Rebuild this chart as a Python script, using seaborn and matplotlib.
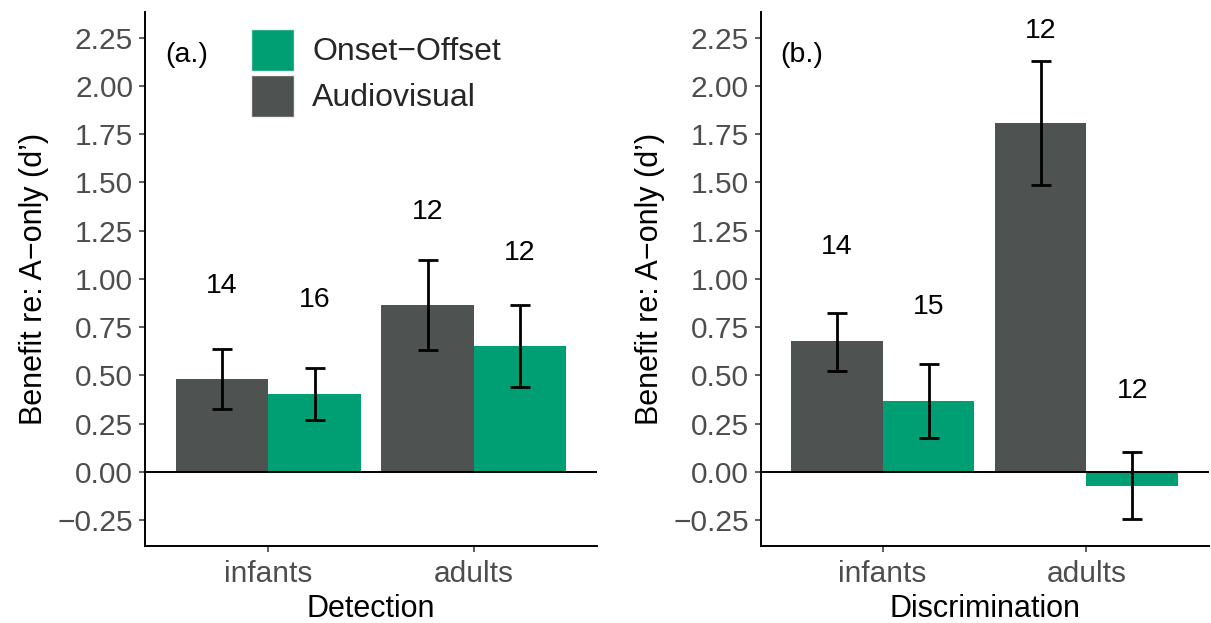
import matplotlib
matplotlib.use("Agg")
import matplotlib.pyplot as plt
from matplotlib.patches import Patch
import seaborn as sns
import pandas as pd

# ---- data ----
groups = ["infants", "adults"]
conditions = ["Audiovisual", "Onset\u2212Offset"]

det_av = [0.483, 0.866]
det_av_lo = [0.326, 0.632]
det_av_hi = [0.638, 1.100]
det_oo = [0.405, 0.655]
det_oo_lo = [0.267, 0.440]
det_oo_hi = [0.539, 0.866]
det_n_av = ["14", "12"]
det_n_oo = ["16", "12"]
det_n_av_y = [0.963, 1.347]
det_n_oo_y = [0.890, 1.136]

dis_av = [0.676, 1.809]
dis_av_lo = [0.521, 1.488]
dis_av_hi = [0.825, 2.129]
dis_oo = [0.369, -0.071]
dis_oo_lo = [0.175, -0.244]
dis_oo_hi = [0.561, 0.106]
dis_n_av = ["14", "12"]
dis_n_oo = ["15", "12"]
dis_n_av_y = [1.163, 2.287]
dis_n_oo_y = [0.856, 0.420]

yticks = [-0.25, 0.0, 0.25, 0.5, 0.75, 1.0, 1.25, 1.5, 1.75, 2.0, 2.25]
ytick_labels = ["\u22120.25", "0.00", "0.25", "0.50", "0.75", "1.00",
                "1.25", "1.50", "1.75", "2.00", "2.25"]
ylabel = "Benefit re: A\u2212only (d\u2019)"
xlabels = ["Detection", "Discrimination"]
panel_labels = ["(a.)", "(b.)"]

colors = {"Audiovisual": "#4E5250", "Onset\u2212Offset": "#009E73"}

# ---- style ----
sns.set_style("ticks")
plt.rcParams["font.family"] = ["Liberation Sans", "DejaVu Sans"]

fig = plt.figure(figsize=(12.11, 6.23), dpi=100)
W, H = 1211, 623
ax_a = fig.add_axes([145 / W, 1 - 545.5 / H, 452 / W, 533.5 / H])
ax_b = fig.add_axes([760.5 / W, 1 - 545.5 / H, 448 / W, 533.5 / H])

panels = [
    (ax_a, det_av, det_av_lo, det_av_hi, det_oo, det_oo_lo, det_oo_hi,
     det_n_av, det_n_oo, det_n_av_y, det_n_oo_y),
    (ax_b, dis_av, dis_av_lo, dis_av_hi, dis_oo, dis_oo_lo, dis_oo_hi,
     dis_n_av, dis_n_oo, dis_n_av_y, dis_n_oo_y),
]

dodge = 0.225
for k, (ax, av, avlo, avhi, oo, oolo, oohi, nav, noo, navy, nooy) in enumerate(panels):
    df = pd.DataFrame({
        "group": groups * 2,
        "cond": [conditions[0]] * 2 + [conditions[1]] * 2,
        "val": av + oo,
    })
    sns.barplot(data=df, x="group", y="val", hue="cond", order=groups,
                hue_order=conditions, palette=colors, width=0.9,
                saturation=1, errorbar=None, linewidth=0, legend=False,
                ax=ax, zorder=2)
    ax.axhline(0, color="black", lw=1.4, zorder=3)
    for i in range(len(groups)):
        for off, m, lo, hi, lab, ly in [(-dodge, av[i], avlo[i], avhi[i], nav[i], navy[i]),
                                        (dodge, oo[i], oolo[i], oohi[i], noo[i], nooy[i])]:
            ax.errorbar([i + off], [m], yerr=[[m - lo], [hi - m]], fmt="none",
                        ecolor="black", elinewidth=2.0, capsize=7.5,
                        capthick=2.0, zorder=4)
            ax.text(i + off, ly, lab, ha="center", va="center",
                    fontsize=20.5, color="black", zorder=5)

    ax.set_xlim(-0.6, 1.6)
    ax.set_ylim(-0.381, 2.383)
    ax.set_yticks(yticks)
    ax.set_yticklabels(ytick_labels)
    ax.set_xlabel(xlabels[k], fontsize=22, color="black", labelpad=4)
    ax.set_ylabel(ylabel, fontsize=22, color="black", labelpad=6)
    ax.tick_params(axis="both", labelsize=21.5, labelcolor="#4D4D4D",
                   color="#333333", length=4.5, width=1.1, pad=4)
    ax.tick_params(axis="x", pad=6)
    for s in ["top", "right"]:
        ax.spines[s].set_visible(False)
    for s in ["left", "bottom"]:
        ax.spines[s].set_color("black")
        ax.spines[s].set_linewidth(1.4)
    ax.text(0.044, 0.92, panel_labels[k], transform=ax.transAxes,
            ha="left", va="center", fontsize=20.5, color="black")

handles = [Patch(facecolor=colors[conditions[1]], edgecolor="#F2F2F2", lw=1),
           Patch(facecolor=colors[conditions[0]], edgecolor="#F2F2F2", lw=1)]
fig.legend(handles, [conditions[1], conditions[0]],
           loc="upper left", bbox_to_anchor=(251 / W, 1 - 29 / H),
           frameon=False, fontsize=23, handlelength=1.36, handleheight=1.64,
           handletextpad=0.55, labelspacing=0.12, borderpad=0, borderaxespad=0)

fig.savefig("out.png", dpi=100)
